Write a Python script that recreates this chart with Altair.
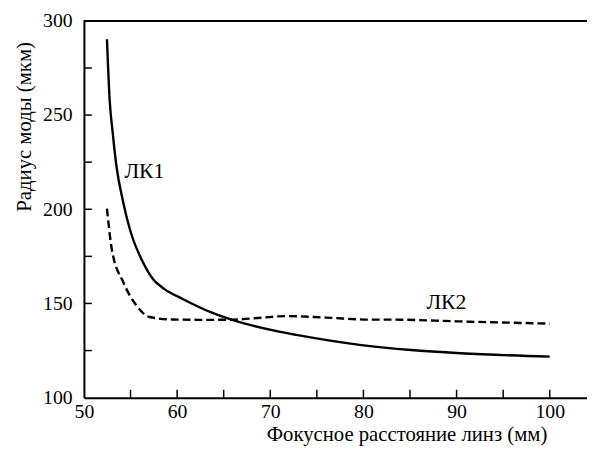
import altair as alt
import pandas as pd

# Data
lk1_x = [52.47, 52.75, 53.1, 53.46, 54.2, 54.95, 56.36, 57.4, 58.65, 60.6, 63.6, 66.1, 70.7, 72.8, 79.8, 85.1, 90.4, 100]
lk1_y = [290.2, 258.8, 240, 223.9, 204, 189, 171.6, 163, 157.6, 152.4, 145.4, 141, 135.3, 133.3, 127.9, 125.3, 123.6, 121.8]

lk2_x = [52.47, 53.0, 54.24, 55.65, 57.06, 59.5, 63, 66, 69, 71.7, 76, 80.9, 83.3, 90, 100]
lk2_y = [200.4, 178.5, 161.1, 148.8, 142.8, 141.5, 141.3, 141.4, 142.4, 143.3, 142.5, 141.4, 141.4, 140.5, 139.3]

x_labels = [50, 60, 70, 80, 90, 100]
x_ticks = [55, 60, 65, 70, 75, 80, 85, 90, 95, 100]
y_labels = [100, 150, 200, 250, 300]
y_ticks = [125, 150, 175, 200, 225, 250, 275]

ann_text = ["ЛК1", "ЛК2"]
ann_x = [54.34, 86.76]
ann_y = [216.8, 147.1]

x_title = "Фокусное расстояние линз (мм)"
y_title = "Радиус моды (мкм)"

W, H = 510, 382
FONT = "Liberation Serif, DejaVu Serif, serif"
FS = 20

df1 = pd.DataFrame({"x": lk1_x, "y": lk1_y})
df2 = pd.DataFrame({"x": lk2_x, "y": lk2_y})
dfxt = pd.DataFrame({"x": x_ticks})
dfyt = pd.DataFrame({"y": y_ticks})
dfann = pd.DataFrame({"t": ann_text, "x": ann_x, "y": ann_y})

xs = alt.Scale(domain=[50, 104], nice=False, zero=False)
ys = alt.Scale(domain=[100, 300], nice=False, zero=False)

xax = alt.Axis(values=x_labels, title=x_title, titleX=327, titleY=43,
               titleBaseline="alphabetic", titleAnchor="start", titleAlign="center",
               labelBaseline="alphabetic", labelPadding=20, labelFlush=False,
               ticks=False, grid=False, domainColor="black", domainWidth=2,
               labelFont=FONT, labelFontSize=FS, labelColor="black",
               titleFont=FONT, titleFontSize=21, titleFontWeight="normal", titleColor="black")
yax = alt.Axis(values=y_labels, title=y_title, labelPadding=12,
               titleX=-54, titleY=107, titleAngle=270, titleAlign="center",
               titleBaseline="alphabetic", titleAnchor="start",
               labelFlush=False, ticks=False, grid=False, domainColor="black", domainWidth=2,
               labelFont=FONT, labelFontSize=FS, labelColor="black",
               titleFont=FONT, titleFontSize=21, titleFontWeight="normal", titleColor="black")

X = alt.X("x:Q", scale=xs, axis=xax)
Y = alt.Y("y:Q", scale=ys, axis=yax)

line1 = alt.Chart(df1).mark_line(color="black", strokeWidth=2.4, interpolate="monotone").encode(x=X, y=Y)
line2 = alt.Chart(df2).mark_line(color="black", strokeWidth=2.4, strokeDash=[8, 4],
                                 interpolate="monotone").encode(x=X, y=Y)
xticks = alt.Chart(dfxt).mark_rule(color="black", strokeWidth=1.5).encode(
    x=X, y=alt.value(H), y2=alt.value(H - 8),
)
yticks = alt.Chart(dfyt).mark_rule(color="black", strokeWidth=1.5).encode(
    y=Y, x=alt.value(0), x2=alt.value(8),
)
top = alt.Chart(dfxt).mark_rule(color="black", strokeWidth=2).encode(
    x=alt.value(0), x2=alt.value(W), y=alt.value(0)
)
ann = alt.Chart(dfann).mark_text(font=FONT, fontSize=22, align="left",
                                 baseline="alphabetic", color="black").encode(
    x=X, y=Y, text="t:N",
)

chart = alt.layer(line1, line2, xticks, yticks, top, ann).properties(
    width=W, height=H,
    autosize=alt.AutoSizeParams(type="none"),
    padding={"left": 77, "top": 10, "right": 0, "bottom": 48},
).configure_view(stroke=None)

chart.save("out.html", embed_options={"renderer": "svg", "actions": False})
